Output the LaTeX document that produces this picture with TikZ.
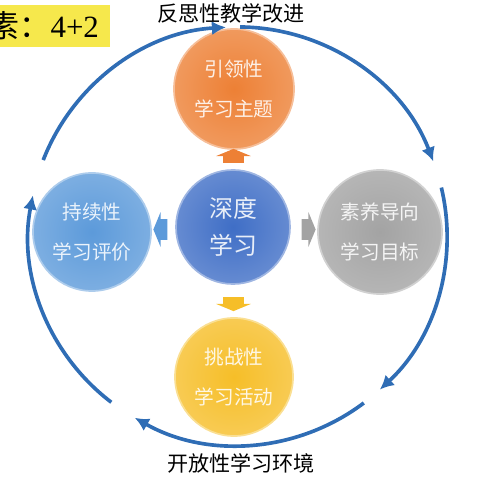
\documentclass[tikz,border=0pt]{standalone}
\usepackage{fontspec}
\setmainfont{Noto Sans CJK SC}
\newfontfamily\numfont{Liberation Serif}
\usepackage{tikz}
\usetikzlibrary{
  arrows.meta,
  calc,
  positioning,
  shapes.arrows}

\definecolor{ringblue}{HTML}{2F6DB5}
\definecolor{orangeball}{HTML}{ED8035}
\definecolor{blueball}{HTML}{3F6EC6}
\definecolor{skyball}{HTML}{5C9ADA}
\definecolor{grayball}{HTML}{A3A3A3}
\definecolor{yellowball}{HTML}{F6BE28}
\definecolor{tagyellow}{HTML}{F6E84C}

\begin{document}
\begin{tikzpicture}[x=0.025cm, y=0.025cm,
    ball/.style={circle, inner sep=0pt, align=center, inner color=#1,
      outer color=#1!80!white, draw=#1!50!white, line width=1.2pt, text=#1!12!white,
      font=\fontsize{14}{28.5}\selectfont},
    blockarrow/.style={single arrow, inner xsep=0pt, inner ysep=0.25cm, minimum height=0.35cm,
      minimum width=0.85cm, single arrow head extend=0.175cm,
      single arrow tip angle=135, fill=#1},
    ringarc/.style={line width=2.6pt, ringblue, -{Latex[length=10pt, width=10pt]}}]
        \useasboundingbox (0,0) rectangle (480,480);

        \node[ball=blueball, minimum size=2.85cm, font=\fontsize{17}{26}\selectfont] (hub) at (233,253) {深度\\学习};
        \node[ball=orangeball, minimum size=3cm] (topic) at (234,391) {引领性\\学习主题};
        \node[ball=skyball, minimum size=2.95cm] (eval) at (92,248) {持续性\\学习评价};
        \node[ball=grayball, minimum size=3.1cm] (goal) at (380,248) {素养导向\\学习目标};
        \node[ball=yellowball, minimum size=2.95cm] (act) at (234,103) {挑战性\\学习活动};

        \node[blockarrow=orangeball, rotate=90] (toTopic) at ($(hub)!0.5!(topic)$) {};
        \node[blockarrow=skyball, rotate=180] (toEval) at ($(hub)!0.5!(eval)$) {};
        \node[blockarrow=grayball] (toGoal) at ($(hub)!0.5!(goal)$) {};
        \node[blockarrow=yellowball, rotate=270] (toAct) at ($(hub)!0.5!(act)$) {};

        \coordinate (ring) at (238,244);
        \foreach \from/\to in {158.7/93.3, 89.4/20.9, 13.4/-47.3, -53/-119.6, -127.3/-191.2} {
            \draw[ringarc] (ring) ++(\from:5.225cm) arc[start angle=\from, end angle=\to, radius=5.225cm];
        }

        \node[font=\fontsize{15}{15}\selectfont] (reflect) at (231,467) {反思性教学改进};
        \node[font=\fontsize{15}{15}\selectfont] (open) at (241,17) {开放性学习环境};

        \node[fill=tagyellow, anchor=east, minimum height=1.05cm, inner xsep=0.27cm,
              font=\fontsize{22}{22}\selectfont] (tag) at (110,454) {素：{\numfont 4+2}};
    \end{tikzpicture}
\end{document}
